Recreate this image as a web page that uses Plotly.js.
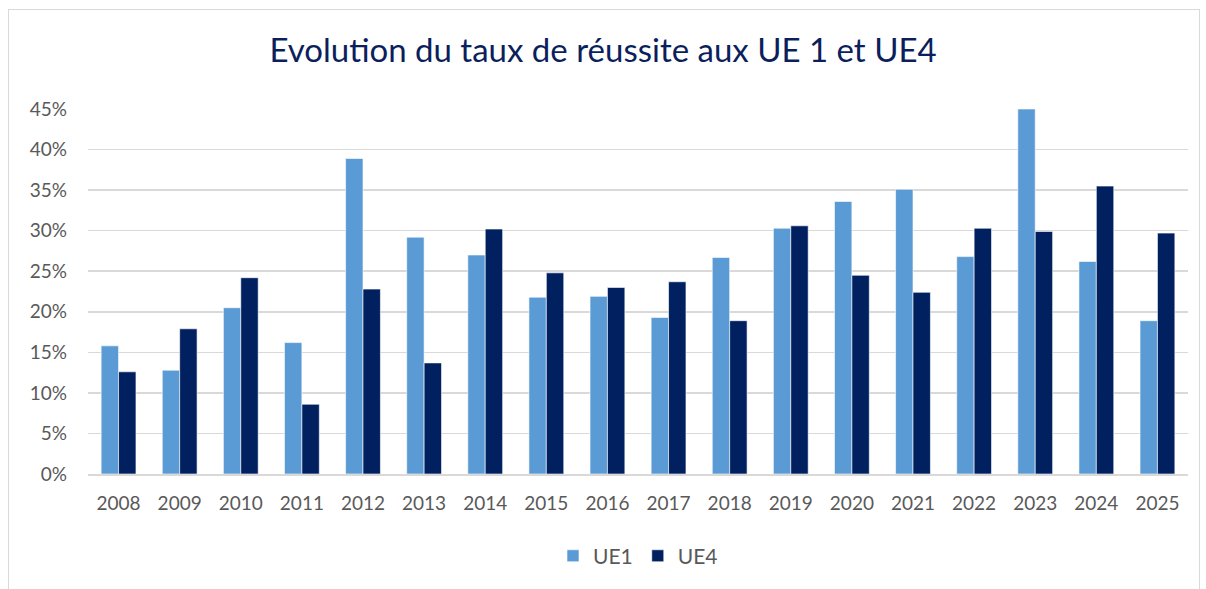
<!DOCTYPE html>
<html>
<head>
<meta charset="utf-8">
<script src="https://cdn.plot.ly/plotly-3.0.1.min.js"></script>
<style>
  html, body { margin: 0; padding: 0; background: #fff; }
  #wrap { position: relative; width: 1206px; height: 589px; overflow: hidden; }
  #chart { position: absolute; left: 0; top: 0; width: 1206px; height: 589px; }
  #frame { position: absolute; left: 8px; top: 9px; width: 1192px; height: 620px;
           border: 1px solid #d9d9d9; pointer-events: none; box-sizing: border-box; }
</style>
</head>
<body>
<div id="wrap">
  <div id="chart"></div>
  <div id="frame"></div>
</div>
<script>
const years = ['2008','2009','2010','2011','2012','2013','2014','2015','2016','2017','2018','2019','2020','2021','2022','2023','2024','2025'];
const ue1 = [0.158, 0.128, 0.205, 0.162, 0.389, 0.292, 0.270, 0.218, 0.219, 0.193, 0.267, 0.303, 0.336, 0.351, 0.268, 0.450, 0.262, 0.189];
const ue4 = [0.126, 0.179, 0.242, 0.086, 0.228, 0.137, 0.302, 0.248, 0.230, 0.237, 0.189, 0.306, 0.245, 0.224, 0.303, 0.299, 0.355, 0.297];
const yTicks = [0, 0.05, 0.10, 0.15, 0.20, 0.25, 0.30, 0.35, 0.40, 0.45];
const yTickText = ['0%','5%','10%','15%','20%','25%','30%','35%','40%','45%'];

const font = 'Lato, "Open Sans", sans-serif';

const data = [
  { type: 'bar', name: 'UE1', x: years, y: ue1,
    marker: { color: '#5B9BD5', line: { color: '#ffffff', width: 0.6 } } },
  { type: 'bar', name: 'UE4', x: years, y: ue4,
    marker: { color: '#002060', line: { color: '#ffffff', width: 0.6 } } }
];

const layout = {
  width: 1206, height: 589,
  paper_bgcolor: '#ffffff', plot_bgcolor: '#ffffff',
  margin: { l: 88, r: 18, t: 109, b: 115 },
  barmode: 'group', bargap: 0.43, bargroupgap: 0,
  title: { text: 'Evolution du taux de réussite aux UE 1 et UE4',
           font: { family: font, size: 33, color: '#0B1F5C' },
           x: 0.5, xanchor: 'center', y: 0.915, yanchor: 'middle' },
  xaxis: { type: 'category', showgrid: false, showline: true, linecolor: '#d9d9d9', linewidth: 1.5,
           ticks: '', tickfont: { family: font, size: 19, color: '#595959' }, ticklabelstandoff: 12 },
  yaxis: { range: [0, 0.45], tickvals: yTicks, ticktext: yTickText, showgrid: true,
           gridcolor: '#d9d9d9', gridwidth: 1.5, zeroline: false, showline: false, ticks: '',
           tickfont: { family: font, size: 19, color: '#595959' }, ticklabelstandoff: 20 },
  showlegend: true,
  legend: { orientation: 'h', x: 0.5, xanchor: 'center', y: -0.225, yanchor: 'middle',
            font: { family: font, size: 21, color: '#595959' }, itemwidth: 30 }
};

Plotly.newPlot('chart', data, layout, { displayModeBar: false, staticPlot: true });
</script>
</body>
</html>
